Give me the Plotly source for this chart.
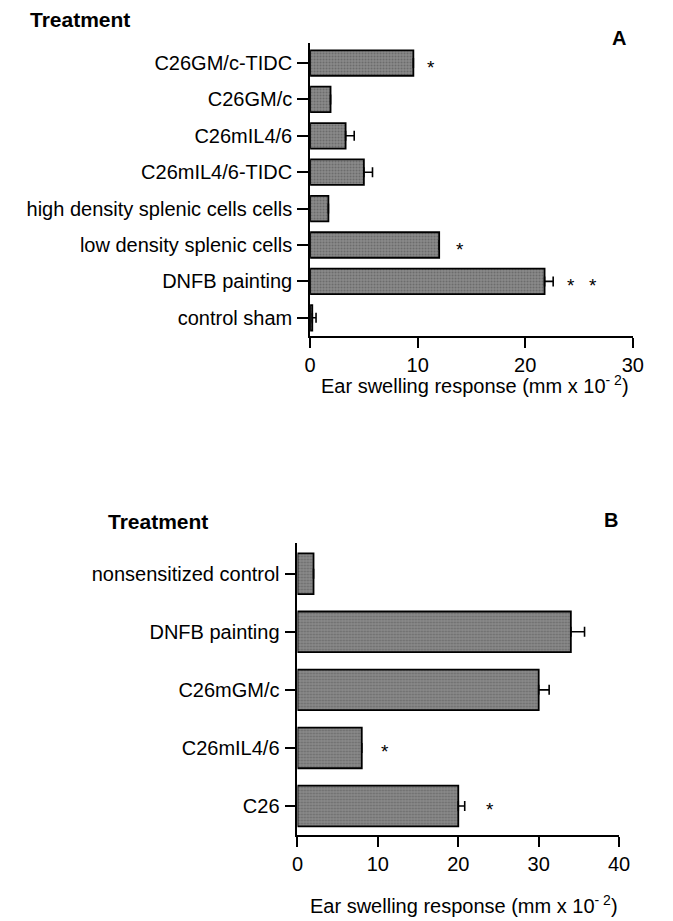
import plotly.graph_objects as go

# ---- Panel A data ----
cats_a = ["C26GM/c-TIDC", "C26GM/c", "C26mIL4/6", "C26mIL4/6-TIDC",
          "high density splenic cells cells", "low density splenic cells",
          "DNFB painting", "control sham"]
vals_a = [9.6, 1.9, 3.3, 5.0, 1.7, 12.0, 21.8, 0.2]
err_a = [0, 0, 0.8, 0.8, 0, 0, 0.8, 0.35]
star_cats_a = ["C26GM/c-TIDC", "low density splenic cells", "DNFB painting", "DNFB painting"]
star_x_a = [11.2, 13.9, 24.3, 26.3]
ticks_a = [0, 10, 20, 30]

# ---- Panel B data ----
cats_b = ["nonsensitized control", "DNFB painting", "C26mGM/c", "C26mIL4/6", "C26"]
vals_b = [2.0, 34.0, 30.0, 8.0, 20.0]
err_b = [0, 1.7, 1.3, 0, 0.8]
star_cats_b = ["C26mIL4/6", "C26"]
star_x_b = [10.9, 23.9]
ticks_b = [0, 10, 20, 30, 40]

FONT = "Liberation Sans, Arial, Helvetica, sans-serif"
W, H = 673, 921

fig = go.Figure()

def bar_trace(cats, vals, errs, xa, ya):
    return go.Bar(
        x=vals, y=cats, orientation="h", xaxis=xa, yaxis=ya,
        width=0.7,
        marker=dict(color="#808080", line=dict(color="black", width=1.8),
                    pattern=dict(shape=".", fgcolor="#4a4a4a", bgcolor="#8a8a8a",
                                 size=3, solidity=0.35)),
        error_x=dict(type="data", symmetric=False, array=errs,
                     arrayminus=[0] * len(errs), color="black",
                     thickness=1.6, width=5),
        showlegend=False, hoverinfo="skip",
    )

fig.add_trace(bar_trace(cats_a, vals_a, err_a, "x", "y"))
fig.add_trace(bar_trace(cats_b, vals_b, err_b, "x2", "y2"))

for sx, sc in zip(star_x_a, star_cats_a):
    fig.add_annotation(x=sx, y=sc, xref="x", yref="y", text="*", showarrow=False,
                       font=dict(family=FONT, size=19, color="black"), yshift=-4)
for sx, sc in zip(star_x_b, star_cats_b):
    fig.add_annotation(x=sx, y=sc, xref="x2", yref="y2", text="*", showarrow=False,
                       font=dict(family=FONT, size=19, color="black"), yshift=-4)

def px_x(p):
    return p / W

def px_y(p):
    return 1 - p / H

axis_common = dict(showline=True, linecolor="black", linewidth=1.8, ticks="outside",
                   tickcolor="black", tickwidth=1.8, showgrid=False, zeroline=False,
                   tickfont=dict(family=FONT, size=20, color="black"))

title_txt = "Ear swelling response (mm x 10<sup>- 2</sup>)"

fig.update_layout(
    width=W, height=H, margin=dict(l=0, r=0, t=0, b=0),
    paper_bgcolor="white", plot_bgcolor="white",
    font=dict(family=FONT, color="black"),
    bargap=0.3,
    xaxis=dict(domain=[px_x(312), px_x(643)], anchor="y", range=[0, 30],
               tickvals=ticks_a, ticklen=10, **axis_common),
    yaxis=dict(domain=[px_y(336), px_y(43)], anchor="x", type="category",
               categoryorder="array", categoryarray=cats_a,
               range=[len(cats_a) - 0.5, -0.55], ticklen=11, ticklabelstandoff=1,
               **axis_common),
    xaxis2=dict(domain=[px_x(299), px_x(629)], anchor="y2", range=[0, 40],
                tickvals=ticks_b, ticklen=10, **axis_common),
    yaxis2=dict(domain=[px_y(835), px_y(543)], anchor="x2", type="category",
                categoryorder="array", categoryarray=cats_b,
                range=[len(cats_b) - 0.5, -0.53], ticklen=11, ticklabelstandoff=1,
                **axis_common),
)

ann_font = dict(family=FONT, size=20, color="black")
fig.add_annotation(x=px_x(481), y=px_y(399), xref="paper", yref="paper", text=title_txt,
                   showarrow=False, font=ann_font, xanchor="center", yanchor="bottom")
fig.add_annotation(x=px_x(470), y=px_y(919), xref="paper", yref="paper", text=title_txt,
                   showarrow=False, font=ann_font, xanchor="center", yanchor="bottom")
fig.add_annotation(x=px_x(76), y=px_y(19), xref="paper", yref="paper", text="<b>Treatment</b>",
                   showarrow=False, font=dict(family=FONT, size=21, color="black"),
                   xanchor="center", yanchor="middle")
fig.add_annotation(x=px_x(156), y=px_y(521), xref="paper", yref="paper", text="<b>Treatment</b>",
                   showarrow=False, font=dict(family=FONT, size=21, color="black"),
                   xanchor="center", yanchor="middle")
fig.add_annotation(x=px_x(629), y=px_y(38), xref="paper", yref="paper", text="<b>A</b>",
                   showarrow=False, font=dict(family=FONT, size=20, color="black"),
                   xanchor="center", yanchor="middle")
fig.add_annotation(x=px_x(621), y=px_y(520), xref="paper", yref="paper", text="<b>B</b>",
                   showarrow=False, font=dict(family=FONT, size=20, color="black"),
                   xanchor="center", yanchor="middle")

fig.write_html("out.html", config={"displayModeBar": False},
               post_script="document.body.style.margin='0';document.body.style.padding='0';"
                           "document.body.style.overflow='hidden';"
                           "document.documentElement.style.overflow='hidden';")
